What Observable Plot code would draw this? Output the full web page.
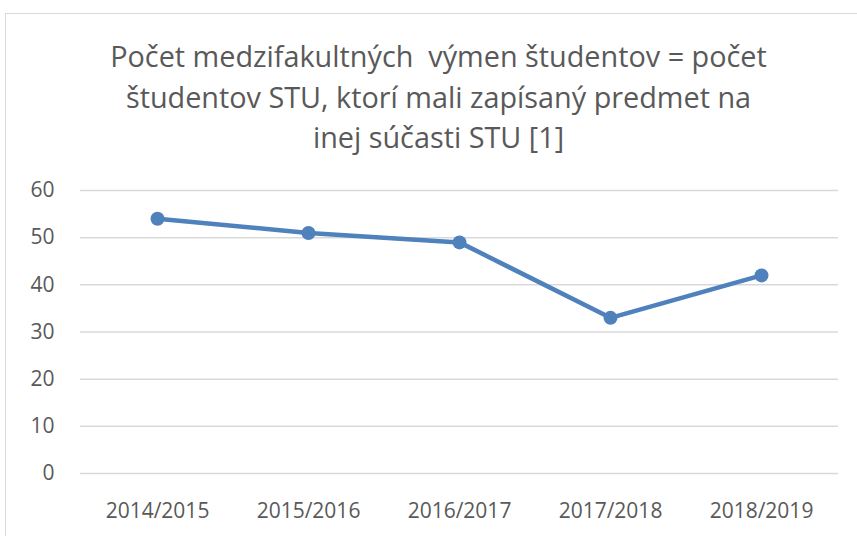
<!DOCTYPE html>
<html>
<head>
<meta charset="utf-8">
<script src="https://cdn.jsdelivr.net/npm/d3@7"></script>
<script src="https://cdn.jsdelivr.net/npm/@observablehq/plot@0.6"></script>
<style>
  html, body { margin: 0; padding: 0; background: #fff; }
  #wrap { position: relative; width: 857px; height: 536px; overflow: hidden; }
  #frame { position: absolute; left: 5px; top: 13px; width: 900px; height: 600px; border: 1px solid #d9d9d9; }
  #title { position: absolute; left: 10px; top: 36px; width: 857px; text-align: center;
    font-family: "Open Sans", sans-serif; font-size: 28.8px; line-height: 40.5px; color: #595959; }
  #chart { position: absolute; left: 0; top: 170px; }
  #chart svg text { font-size: 21px !important; fill: #595959; }
</style>
</head>
<body>
<div id="wrap">
  <div id="frame"></div>
  <div id="title">Počet medzifakultných&nbsp; výmen študentov = počet<br>študentov STU, ktorí mali zapísaný predmet na<br>inej súčasti STU [1]</div>
  <div id="chart"></div>
</div>
<script>
const years = ["2014/2015", "2015/2016", "2016/2017", "2017/2018", "2018/2019"];
const values = [54, 51, 49, 33, 42];
const yTicks = [0, 10, 20, 30, 40, 50, 60];

const data = years.map((y, i) => ({year: y, value: values[i]}));

const plot = Plot.plot({
  width: 857,
  height: 366,
  marginLeft: 80,
  marginRight: 19,
  marginTop: 20,
  marginBottom: 63,
  style: {fontFamily: "'Open Sans', sans-serif", fontSize: "21px", color: "#595959", background: "transparent"},
  x: {domain: years, type: "point", padding: 0.5, label: null},
  y: {domain: [0, 60], label: null},
  marks: [
    Plot.gridY(yTicks, {stroke: "#d9d9d9", strokeOpacity: 1, strokeWidth: 1.5}),
    Plot.axisY(yTicks, {tickSize: 0, tickPadding: 26, fill: "#595959", fontSize: 21, label: null}),
    Plot.axisX({tickSize: 0, tickPadding: 30, fill: "#595959", fontSize: 21, label: null}),
    Plot.line(data, {x: "year", y: "value", stroke: "#4f81bd", strokeWidth: 4.5, strokeLinejoin: "round"}),
    Plot.dot(data, {x: "year", y: "value", r: 7, fill: "#4f81bd", stroke: "none"})
  ]
});
document.getElementById("chart").appendChild(plot);
</script>
</body>
</html>
